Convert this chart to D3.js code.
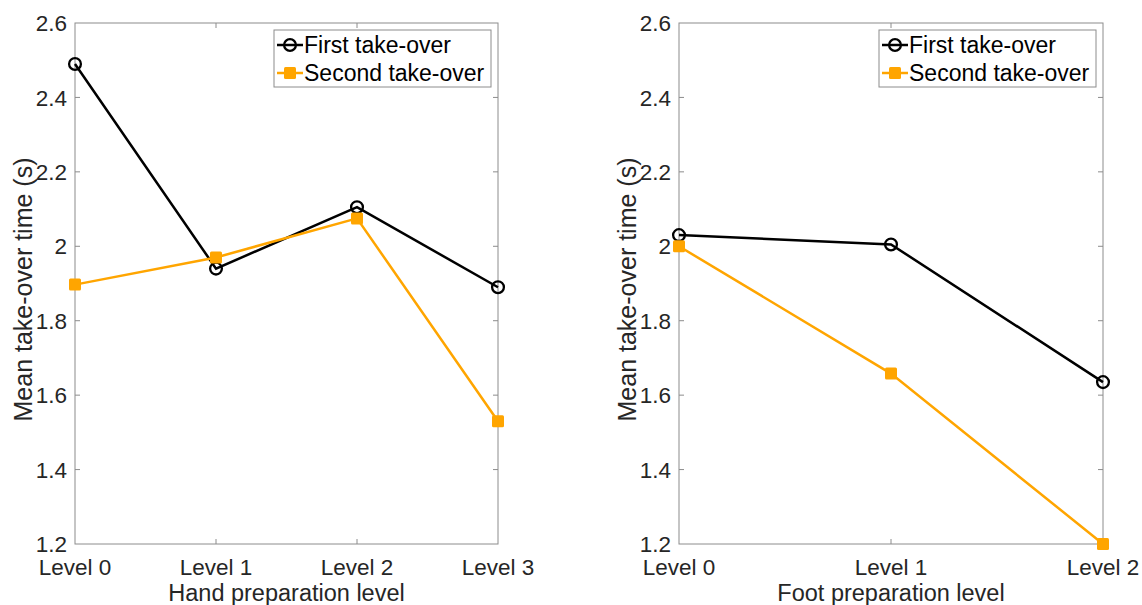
<!DOCTYPE html>
<html>
<head>
<meta charset="utf-8">
<script src="https://cdn.jsdelivr.net/npm/d3@7"></script>
<style>
  body { margin: 0; background: #fff; }
  svg text { font-family: "Liberation Sans", Arial, sans-serif; fill: #262626; }
</style>
</head>
<body>
<div id="chart"></div>
<script>
// data
const handLevels = ["Level 0", "Level 1", "Level 2", "Level 3"];
const handFirst = [2.49, 1.94, 2.105, 1.89];
const handSecond = [1.897, 1.97, 2.075, 1.53];

const footLevels = ["Level 0", "Level 1", "Level 2"];
const footFirst = [2.03, 2.005, 1.635];
const footSecond = [2.0, 1.658, 1.2];

const yTicks = [1.2, 1.4, 1.6, 1.8, 2, 2.2, 2.4, 2.6];
const seriesNames = ["First take-over", "Second take-over"];

const W = 1142, H = 605;
const orange = "#ffa500";
const axisColor = "#8c8c8c";

const svg = d3.select("#chart").append("svg")
  .attr("width", W)
  .attr("height", H);

function drawPanel(box, levels, first, second, xTitle) {
  const g = svg.append("g");

  const x = d3.scalePoint().domain(levels).range([box.left, box.right]);
  const y = d3.scaleLinear().domain([1.2, 2.6]).range([box.bottom, box.top]);

  // ticks (inside, mirrored like matlab)
  const tl = 5;
  levels.slice(1, -1).forEach(l => {
    g.append("line").attr("x1", x(l)).attr("x2", x(l)).attr("y1", box.bottom).attr("y2", box.bottom - tl)
      .attr("stroke", axisColor);
    g.append("line").attr("x1", x(l)).attr("x2", x(l)).attr("y1", box.top).attr("y2", box.top + tl)
      .attr("stroke", axisColor);
  });
  yTicks.slice(1, -1).forEach(t => {
    g.append("line").attr("x1", box.left).attr("x2", box.left + tl).attr("y1", y(t)).attr("y2", y(t))
      .attr("stroke", axisColor);
    g.append("line").attr("x1", box.right).attr("x2", box.right - tl).attr("y1", y(t)).attr("y2", y(t))
      .attr("stroke", axisColor);
  });

  // box
  g.append("rect")
    .attr("x", box.left).attr("y", box.top)
    .attr("width", box.right - box.left).attr("height", box.bottom - box.top)
    .attr("fill", "none").attr("stroke", axisColor).attr("stroke-width", 1);

  // tick labels
  g.selectAll(".ytl").data(yTicks).join("text")
    .attr("x", box.left - 8).attr("y", d => y(d)).attr("dy", "0.36em")
    .attr("text-anchor", "end").style("font-size", "22.5px")
    .text(d => d3.format("")(d));

  g.selectAll(".xtl").data(levels).join("text")
    .attr("x", d => x(d)).attr("y", box.bottom + 31)
    .attr("text-anchor", "middle").style("font-size", "22.5px")
    .text(d => d);

  // axis titles
  g.append("text")
    .attr("x", (box.left + box.right) / 2).attr("y", box.bottom + 57)
    .attr("text-anchor", "middle").style("font-size", "23.5px")
    .text(xTitle);

  g.append("text")
    .attr("transform", `translate(${box.left - 43},${(box.top + box.bottom) / 2 + 6}) rotate(-90)`)
    .attr("text-anchor", "middle").style("font-size", "25px")
    .text("Mean take-over time (s)");

  const line = d3.line().x((d, i) => x(levels[i])).y(d => y(d));

  // first take-over
  g.append("path").datum(first).attr("d", line)
    .attr("fill", "none").attr("stroke", "#000").attr("stroke-width", 2.5);
  // second take-over
  g.append("path").datum(second).attr("d", line)
    .attr("fill", "none").attr("stroke", orange).attr("stroke-width", 2.5);

  g.selectAll(".m1").data(first).join("circle")
    .attr("cx", (d, i) => x(levels[i])).attr("cy", d => y(d)).attr("r", 5.9)
    .attr("fill", "none").attr("stroke", "#000").attr("stroke-width", 2.3);

  g.selectAll(".m2").data(second).join("rect")
    .attr("x", (d, i) => x(levels[i]) - 6).attr("y", d => y(d) - 6)
    .attr("width", 12).attr("height", 12).attr("rx", 1.5)
    .attr("fill", orange);

  // legend
  const lg = g.append("g").attr("transform", `translate(${box.right - 224},${box.top + 7})`);
  lg.append("rect").attr("width", 217).attr("height", 57)
    .attr("fill", "#fff").attr("stroke", axisColor);
  [0, 1].forEach(i => {
    const cy = 15 + i * 28;
    lg.append("line").attr("x1", 3).attr("x2", 29).attr("y1", cy).attr("y2", cy)
      .attr("stroke", i === 0 ? "#000" : orange).attr("stroke-width", 2.5);
    if (i === 0) {
      lg.append("circle").attr("cx", 16).attr("cy", cy).attr("r", 5.9)
        .attr("fill", "none").attr("stroke", "#000").attr("stroke-width", 2.3);
    } else {
      lg.append("rect").attr("x", 10).attr("y", cy - 6).attr("width", 12).attr("height", 12)
        .attr("rx", 1.5).attr("fill", orange);
    }
    lg.append("text").attr("x", 30).attr("y", cy).attr("dy", "0.36em")
      .style("font-size", "23px").style("fill", "#000")
      .text(seriesNames[i]);
  });
}

drawPanel({ left: 75, right: 498, top: 23, bottom: 544 }, handLevels, handFirst, handSecond, "Hand preparation level");
drawPanel({ left: 679, right: 1103, top: 23, bottom: 544 }, footLevels, footFirst, footSecond, "Foot preparation level");
</script>
</body>
</html>
